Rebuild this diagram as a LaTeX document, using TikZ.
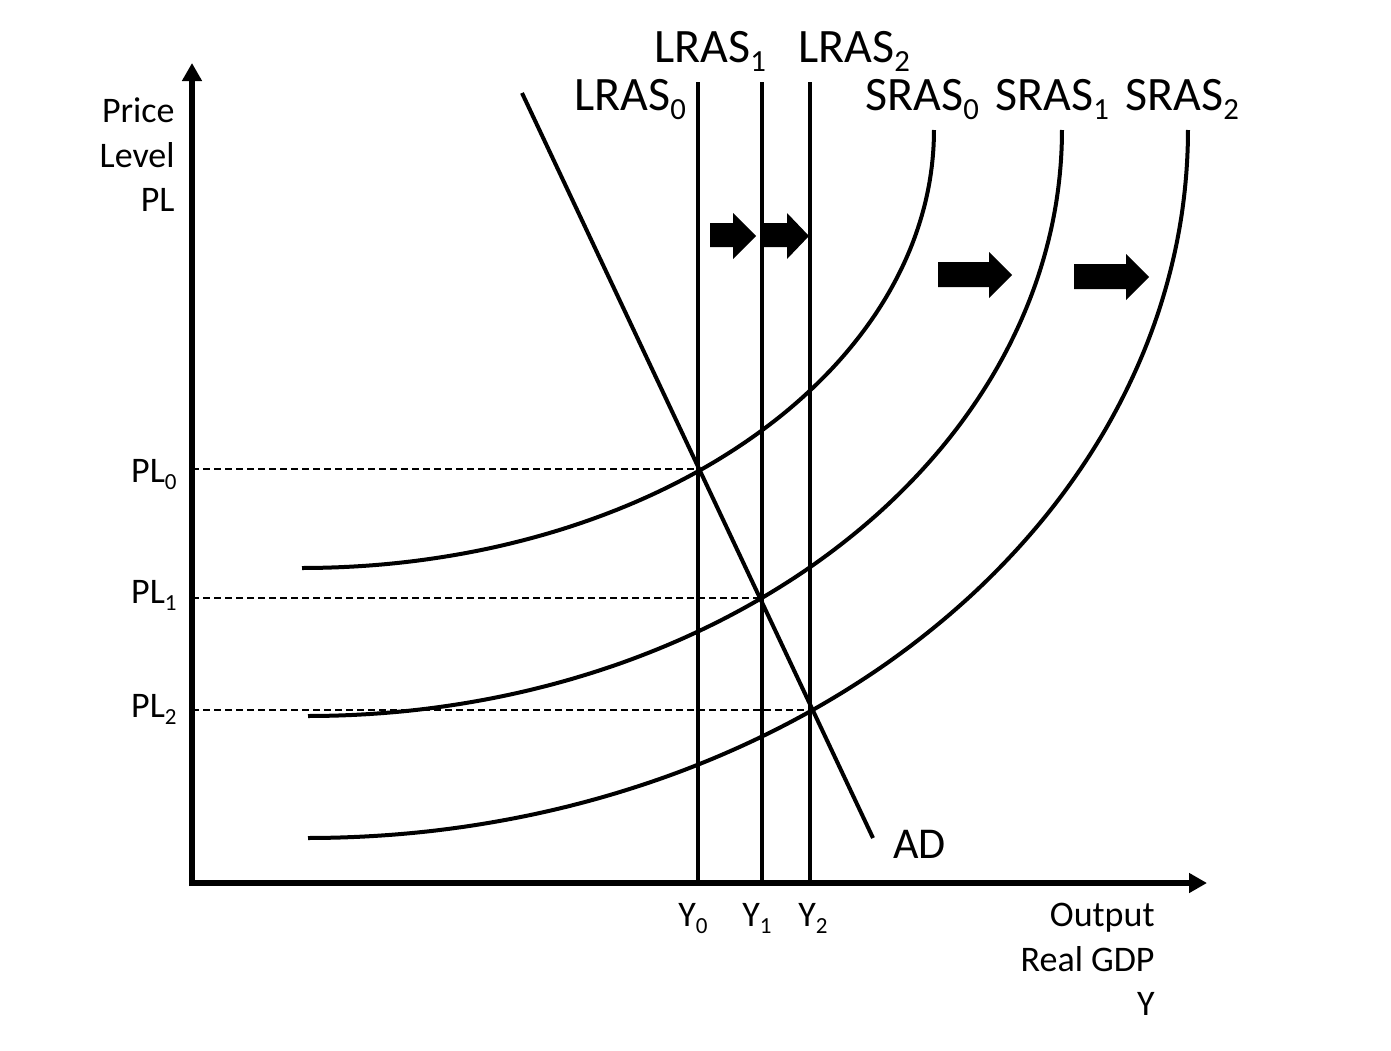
\documentclass[tikz,border=0pt]{standalone}
\usepackage{fontspec}
\usepackage{graphicx}
\setmainfont{Carlito}
\usetikzlibrary{arrows.meta}
\newcommand\lowsub[1]{\raisebox{-0.2em}{\scalebox{0.64}{#1}}}
\begin{document}
\begin{tikzpicture}[x=0.5pt,y=-0.5pt,
  axis/.style={line width=2.6pt,-{Triangle[length=9pt,width=9.5pt]}},
  curve/.style={line width=2pt},
  guide/.style={line width=0.7pt,dash pattern=on 3.5pt off 2pt},
  blockarrow/.style={fill=black,draw=none},
  big/.style={font=\fontsize{24}{29}\selectfont,inner sep=0pt},
  mid/.style={font=\fontsize{18}{22}\selectfont,inner sep=0pt},
  ad/.style={font=\fontsize{22}{26}\selectfont,inner sep=0pt}]
\useasboundingbox (0,0) rectangle (1391,1050);
% origin and axes
\coordinate (O) at (192,883);
\coordinate (ytop) at (192,63);
\coordinate (xend) at (1207,883);
% equilibrium points
\coordinate (E0) at (698,469);
\coordinate (E1) at (762,598);
\coordinate (E2) at (810,710);
\coordinate (P0) at (192,469);
\coordinate (P1) at (192,598);
\coordinate (P2) at (192,710);
% dashed guides
\draw[guide] (P0) -- (E0);
\draw[guide] (P1) -- (E1);
\draw[guide] (P2) -- (E2);
% LRAS lines
\coordinate (L0t) at (698,82); \coordinate (L0b) at (698,883);
\coordinate (L1t) at (762,82); \coordinate (L1b) at (762,883);
\coordinate (L2t) at (810,82); \coordinate (L2b) at (810,883);
\draw[curve] (L0t) -- (L0b);
\draw[curve] (L1t) -- (L1b);
\draw[curve] (L2t) -- (L2b);
% AD
\coordinate (ADt) at (522,93);
\coordinate (ADb) at (873,838);
\draw[curve] (ADt) -- (ADb);
% SRAS curves (quarter ellipses)
\draw[curve] plot[domain=0:90,samples=80,smooth] ({302+632*sin(\x)},{130+438*cos(\x)});
\draw[curve] plot[domain=0:90,samples=80,smooth] ({308+754*sin(\x)},{130+586*cos(\x)});
\draw[curve] plot[domain=0:90,samples=80,smooth] ({308+880*sin(\x)},{130+708*cos(\x)});
% axes
\draw[axis] (192,886) -- (ytop);
\draw[axis] (189,883) -- (xend);
% block arrows
\fill[blockarrow] (710,223) -- (733,223) -- (733,213) -- (756,236) -- (733,259) -- (733,247) -- (710,247) -- cycle;
\fill[blockarrow] (763,223) -- (787,223) -- (787,213) -- (809,236) -- (787,259) -- (787,247) -- (763,247) -- cycle;
\fill[blockarrow] (938,262) -- (989,262) -- (989,252) -- (1012,275) -- (989,298) -- (989,287) -- (938,287) -- cycle;
\fill[blockarrow] (1074,264) -- (1126,264) -- (1126,254) -- (1149,277) -- (1126,300) -- (1126,289) -- (1074,289) -- cycle;
% top labels
\node[big,anchor=base west] (lras1) at (654,62) {LRAS\lowsub{1}};
\node[big,anchor=base west] (lras2) at (798,62) {LRAS\lowsub{2}};
\node[big,anchor=base west] (lras0) at (574,110) {LRAS\lowsub{0}};
\node[big,anchor=base west] (sras0) at (865,110) {SRAS\lowsub{0}};
\node[big,anchor=base west] (sras1) at (995,110) {SRAS\lowsub{1}};
\node[big,anchor=base west] (sras2) at (1125,110) {SRAS\lowsub{2}};
% y axis title
\node[mid,anchor=base east] (price) at (175,122) {Price};
\node[mid,anchor=base east] (level) at (175,167) {Level};
\node[mid,anchor=base east] (pl) at (175,211) {PL};
% PL labels
\node[mid,anchor=base east] (pl0) at (177,482) {PL\lowsub{0}};
\node[mid,anchor=base east] (pl1) at (177,603) {PL\lowsub{1}};
\node[mid,anchor=base east] (pl2) at (177,717) {PL\lowsub{2}};
% Y labels
\node[mid,anchor=base west] (y0) at (678,926) {Y\lowsub{0}};
\node[mid,anchor=base west] (y1) at (742,926) {Y\lowsub{1}};
\node[mid,anchor=base west] (y2) at (798,926) {Y\lowsub{2}};
% x axis title
\node[mid,anchor=base east] (out) at (1155,926) {Output};
\node[mid,anchor=base east] (gdp) at (1155,971) {Real GDP};
\node[mid,anchor=base east] (yy) at (1155,1015) {Y};
% AD label
\node[ad,anchor=base west] (adl) at (893,858) {AD};
\end{tikzpicture}
\end{document}
